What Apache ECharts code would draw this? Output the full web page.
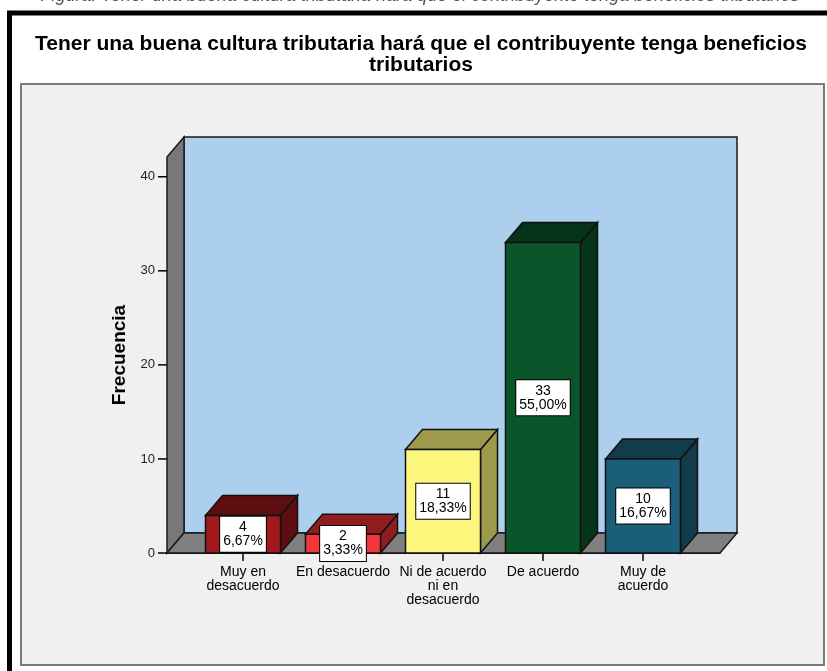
<!DOCTYPE html>
<html>
<head>
<meta charset="utf-8">
<script src="https://cdn.jsdelivr.net/npm/echarts@6/dist/echarts.min.js"></script>
<style>
  html, body { margin: 0; padding: 0; background: #fff; }
  #chart { width: 827px; height: 671px; }
</style>
</head>
<body>
<div id="chart"></div>
<script>
// datos
const categories = ['Muy en\ndesacuerdo', 'En desacuerdo', 'Ni de acuerdo\nni en\ndesacuerdo', 'De acuerdo', 'Muy de\nacuerdo'];
const counts = [4, 2, 11, 33, 10];
const percents = ['6,67%', '3,33%', '18,33%', '55,00%', '16,67%'];
const yTicks = [0, 10, 20, 30, 40];
const xPositions = [0, 1, 2, 3, 4];

const frontColors = ['#a0191d', '#f2383c', '#fcf67c', '#0b552b', '#1b5e78'];
const shadeColors = ['#5e0e10', '#901c20', '#9e9a4c', '#06341a', '#123b4b'];

const X_MIN = -0.76, X_MAX = 4.77, Y_MAX = 42.1;
const DX = 17, DY = 20, HALF = 0.375;
const FONT = '"Liberation Sans", Arial, sans-serif';

const chart = echarts.init(document.getElementById('chart'));

// paredes, piso y marcas del eje Y
function renderWalls(params, api) {
    const p0 = api.coord([X_MIN, 0]);
    const pTop = api.coord([X_MIN, Y_MAX]);
    const pR = api.coord([X_MAX, 0]);
    const x0 = p0[0], y0 = p0[1], yt = pTop[1], xr = pR[0];
    const line = { stroke: '#1a1a1a', lineWidth: 1.5 };
    const ticks = yTicks.map(t => {
        const p = api.coord([X_MIN, t]);
        return { type: 'line', shape: { x1: p[0] - 9, y1: p[1], x2: p[0], y2: p[1] },
                 style: { stroke: '#000', lineWidth: 1.5 } };
    });
    return {
        type: 'group',
        children: [
            { type: 'rect', shape: { x: x0 + DX, y: yt - DY, width: xr - x0, height: y0 - yt },
              style: Object.assign({ fill: '#abcfec' }, line) },
            { type: 'polygon', shape: { points: [[x0, y0], [x0, yt], [x0 + DX, yt - DY], [x0 + DX, y0 - DY]] },
              style: Object.assign({ fill: '#787878' }, line) },
            { type: 'polygon', shape: { points: [[x0, y0], [x0 + DX, y0 - DY], [xr + DX, y0 - DY], [xr, y0]] },
              style: Object.assign({ fill: '#808080' }, line) }
        ].concat(ticks)
    };
}

function renderBar(params, api) {
    const i = api.value(0), v = api.value(1);
    const tl = api.coord([i - HALF, v]);
    const br = api.coord([i + HALF, 0]);
    const x0 = tl[0], x1 = br[0], yt = tl[1], yb = br[1];
    const line = { stroke: '#111', lineWidth: 1.5 };
    return {
        type: 'group',
        children: [
            { type: 'polygon', shape: { points: [[x1, yt], [x1 + DX, yt - DY], [x1 + DX, yb - DY], [x1, yb]] },
              style: Object.assign({ fill: shadeColors[i] }, line) },
            { type: 'polygon', shape: { points: [[x0, yt], [x0 + DX, yt - DY], [x1 + DX, yt - DY], [x1, yt]] },
              style: Object.assign({ fill: shadeColors[i] }, line) },
            { type: 'rect', shape: { x: x0, y: yt, width: x1 - x0, height: yb - yt },
              style: Object.assign({ fill: frontColors[i] }, line) },
            { type: 'text', z2: 10,
              style: { text: counts[i] + '\n' + percents[i], x: (x0 + x1) / 2, y: (yt + yb) / 2,
                       align: 'center', verticalAlign: 'middle', font: '14px ' + FONT, lineHeight: 14,
                       fill: '#000', backgroundColor: '#fff', borderColor: '#000', borderWidth: 1, padding: [4, 3, 3, 3] } }
        ]
    };
}

chart.setOption({
    animation: false,
    graphic: [
        { type: 'text', z: -3, style: { text: 'Figura. Tener una buena cultura tributaria hará que el contribuyente tenga beneficios tributarios',
            x: 420, y: 5, align: 'center', verticalAlign: 'bottom', font: 'italic 18px ' + FONT, fill: '#44546a' } },
        { type: 'rect', z: -2, shape: { x: 9.5, y: 13, width: 900, height: 700 },
          style: { fill: '#fff', stroke: '#000', lineWidth: 5 } },
        { type: 'rect', z: -1, shape: { x: 21, y: 84, width: 803, height: 581 },
          style: { fill: '#f0f0f0', stroke: '#7a7a7a', lineWidth: 2 } },
        { type: 'text', z: 5, style: { text: 'Tener una buena cultura tributaria hará que el contribuyente tenga beneficios\ntributarios',
            x: 421, y: 34, align: 'center', verticalAlign: 'top', font: 'bold 21px ' + FONT, lineHeight: 21, fill: '#000' } }
    ],
    grid: { left: 167, top: 157, width: 553, height: 396 },
    xAxis: {
        type: 'value', min: X_MIN, max: X_MAX,
        splitLine: { show: false },
        axisLine: { show: true, lineStyle: { color: '#000', width: 1 } },
        axisTick: { show: true, customValues: xPositions, length: 8, lineStyle: { color: '#000', width: 1.5 } },
        axisLabel: { customValues: xPositions, formatter: v => categories[Math.round(v)], margin: 12,
                     fontFamily: FONT, fontSize: 14, lineHeight: 14, color: '#000' }
    },
    yAxis: {
        type: 'value', min: 0, max: Y_MAX,
        name: 'Frecuencia', nameLocation: 'middle', nameRotate: 90, nameGap: 38,
        nameTextStyle: { fontFamily: FONT, fontSize: 19, fontWeight: 'bold', color: '#000' },
        splitLine: { show: false },
        axisLine: { show: true, lineStyle: { color: '#000', width: 1.5 } },
        axisTick: { show: false },
        axisLabel: { customValues: yTicks, margin: 12, fontFamily: FONT, fontSize: 13, color: '#222' }
    },
    series: [
        { type: 'custom', z: 1, renderItem: renderWalls, data: [[0, 0]], silent: true },
        { type: 'custom', z: 3, renderItem: renderBar,
          data: xPositions.map((x, i) => [x, counts[i]]) }
    ]
});
</script>
</body>
</html>
